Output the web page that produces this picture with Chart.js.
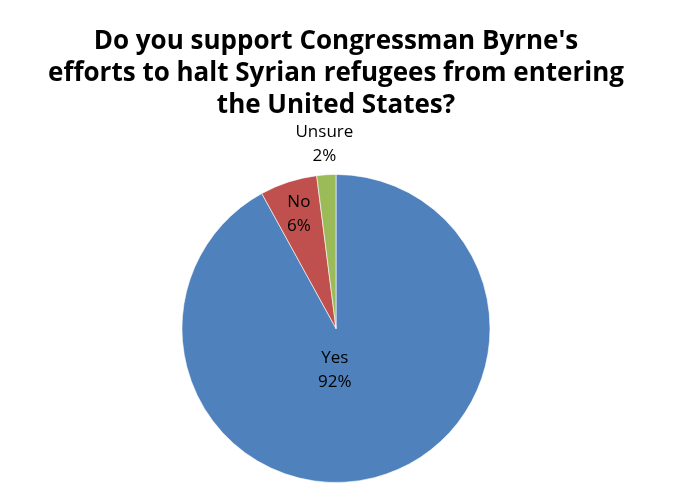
<!DOCTYPE html>
<html>
<head>
<meta charset="utf-8">
<script src="https://cdn.jsdelivr.net/npm/chart.js@4/dist/chart.umd.min.js"></script>
<style>
  html, body { margin: 0; padding: 0; background: #fff; }
  #wrap { width: 680px; height: 503px; }
</style>
</head>
<body>
<div id="wrap"><canvas id="pieChart"></canvas></div>
<script>
// du lieu
const answers = ["Yes", "No", "Unsure"];
const shares = [92, 6, 2];
const sliceColors = ["#4F81BD", "#C0504D", "#9BBB59"];
const titleLines = [
  "Do you support Congressman Byrne's",
  "efforts to halt Syrian refugees from entering",
  "the United States?"
];

// vi tri nhan: ty le ban kinh + dich chuyen nho (px)
const labelPlace = [
  { r: 0.28, dx: -12, dy: 0 },
  { r: 0.78, dx: 0, dy: 0 },
  { r: 1.2, dx: 0, dy: 0 }
];

const sliceLabels = {
  id: "sliceLabels",
  afterDatasetsDraw(chart) {
    const ctx = chart.ctx;
    const meta = chart.getDatasetMeta(0);
    ctx.save();
    ctx.font = "17px 'Open Sans', sans-serif";
    ctx.fillStyle = "#000";
    ctx.textAlign = "center";
    ctx.textBaseline = "middle";
    meta.data.forEach((arc, i) => {
      const p = arc.getProps(["x", "y", "startAngle", "endAngle", "outerRadius"], true);
      const mid = (p.startAngle + p.endAngle) / 2;
      const rr = p.outerRadius * labelPlace[i].r;
      const x = p.x + Math.cos(mid) * rr + labelPlace[i].dx;
      const y = p.y + Math.sin(mid) * rr + labelPlace[i].dy;
      ctx.fillText(answers[i], x, y - 12);
      ctx.fillText(shares[i] + "%", x, y + 12);
    });
    ctx.restore();
  }
};

const ctx = document.getElementById("pieChart").getContext("2d");
const myChart = new Chart(ctx, {
  type: "pie",
  data: {
    labels: answers,
    datasets: [
      {
        data: shares,
        backgroundColor: sliceColors,
        borderColor: "rgba(255,255,255,0.6)",
        borderWidth: 1
      }
    ]
  },
  options: {
    responsive: true,
    maintainAspectRatio: false,
    animation: false,
    layout: { padding: { top: 0, bottom: 20, left: 0, right: 8 } },
    plugins: {
      legend: { display: false },
      tooltip: { enabled: false },
      title: {
        display: true,
        text: titleLines,
        color: "#000",
        font: { family: "'Open Sans', sans-serif", size: 26, weight: "bold", lineHeight: 1.23 },
        padding: { top: 26, bottom: 52 }
      }
    }
  },
  plugins: [sliceLabels]
});
</script>
</body>
</html>
